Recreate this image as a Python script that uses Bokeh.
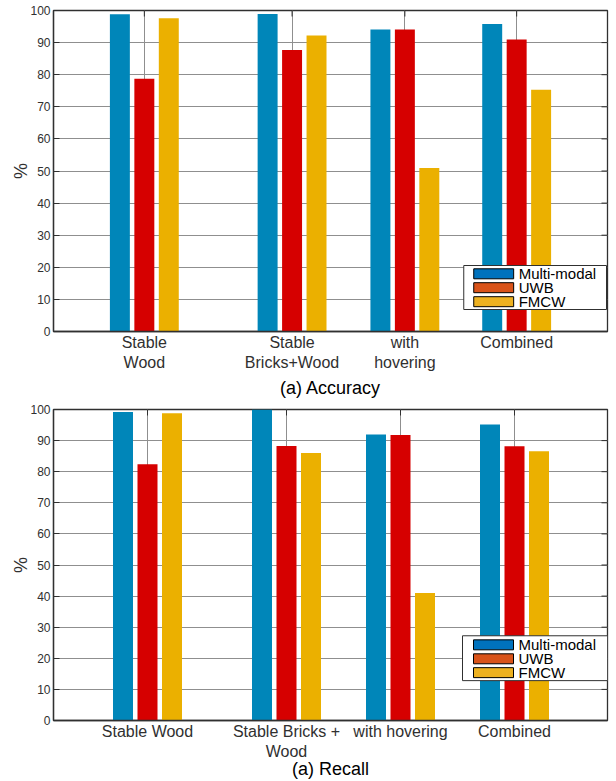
from bokeh.plotting import figure
from bokeh.models import ColumnDataSource, FixedTicker, Range1d
from bokeh.layouts import column
from bokeh.transform import dodge
from bokeh.core.properties import value
from bokeh.embed import file_html
from bokeh.resources import INLINE

# ---------------- data ----------------
series = ["Multi-modal", "UWB", "FMCW"]

acc_labels = ["Stable\nWood", "Stable\nBricks+Wood", "with\nhovering", "Combined"]
acc_multi = [98.8, 98.9, 94.1, 95.8]
acc_uwb = [78.7, 87.7, 94.1, 91.0]
acc_fmcw = [97.6, 92.2, 50.9, 75.3]

rec_labels = ["Stable Wood", "Stable Bricks +\nWood", "with hovering", "Combined"]
rec_multi = [99.2, 100.0, 92.0, 95.2]
rec_uwb = [82.4, 88.3, 91.8, 88.2]
rec_fmcw = [98.8, 86.0, 41.0, 86.6]

y_ticks = list(range(0, 101, 10))

# ---------------- style / layout ----------------
FONT = "Liberation Sans"
BAR_COLORS = ["#0086B9", "#D60000", "#EBB000"]
LEG_COLORS = ["#0072BD", "#D95319", "#EDB120"]
DARK = "#303030"
GRID = "#8f8f8f"

# category positions (in frame-pixel-like units)
acc_xpos = [91, 239, 352, 464]
acc_xrange = (0, 555)
rec_xpos = [94, 233, 347, 461]
rec_xrange = (0, 554)

# legend placement (frame pixels from bottom-left): box l, r, b, t ; row centres
acc_leg = dict(box=(411, 554, 22, 66), rows=[57.7, 43.8, 29.8], patch=(421, 461), text_x=466)
rec_leg = dict(box=(409, 554, 40, 85), rows=[75.9, 61.9, 48.0], patch=(420, 460), text_x=465)


def make_chart(labels, xpos, xrange, vals, axis_title, height, borders,
               frame_h, leg, label_standoff):
    bl, br, bt, bb = borders
    p = figure(width=616, height=height, x_range=Range1d(*xrange),
               y_range=Range1d(0, 100), output_backend="svg",
               toolbar_location=None, min_border_left=bl,
               min_border_right=br, min_border_top=bt, min_border_bottom=bb)
    p.background_fill_color = "white"
    p.border_fill_color = "white"
    p.outline_line_color = DARK
    p.outline_line_width = 1.3

    def ys(px):
        return px * 100.0 / frame_h

    src = ColumnDataSource(dict(x=xpos, m=vals[0], u=vals[1], f=vals[2]))
    offsets = [-24.5, 0.0, 24.5]
    for key, off, col in zip(["m", "u", "f"], offsets, BAR_COLORS):
        p.vbar(x=dodge("x", off, range=p.x_range), top=key, width=20,
               source=src, fill_color=col, line_color=None)

    # inner tick marks on the right and top borders (box style)
    p.segment(x0=[xrange[1] - 6] * len(y_ticks), x1=[xrange[1]] * len(y_ticks),
              y0=y_ticks, y1=y_ticks, line_color=DARK, line_width=1)
    p.segment(x0=xpos, x1=xpos, y0=[100] * len(xpos),
              y1=[100 - ys(6)] * len(xpos), line_color=DARK, line_width=1)

    # legend box (drawn manually to match the compact MATLAB legend)
    l, r, b, t = leg["box"]
    p.quad(left=[l], right=[r], bottom=[ys(b)], top=[ys(t)],
           fill_color="white", line_color=DARK, line_width=1)
    px0, px1 = leg["patch"]
    rows = leg["rows"]
    p.quad(left=[px0] * 3, right=[px1] * 3,
           bottom=[ys(rc - 5) for rc in rows], top=[ys(rc + 5) for rc in rows],
           fill_color=LEG_COLORS, line_color="black", line_width=1)
    p.text(x=[leg["text_x"]] * 3, y=[ys(rc) for rc in rows], text=series,
           text_font=value(FONT), text_font_size="15px",
           text_baseline="middle", text_align="left", text_color="black")

    # x axis (below)
    xa = p.xaxis[0]
    xa.ticker = FixedTicker(ticks=xpos)
    xa.major_label_overrides = {x: lab for x, lab in zip(xpos, labels)}
    xa.major_label_text_font = FONT
    xa.major_label_text_font_size = "16px"
    xa.major_label_text_color = DARK
    xa.major_label_standoff = 2
    xa.major_tick_in = 0
    xa.major_tick_out = 0
    xa.minor_tick_line_color = None
    xa.axis_line_color = DARK
    xa.axis_line_width = 1.3
    xa.axis_label = axis_title
    xa.axis_label_text_font = FONT
    xa.axis_label_text_font_size = "18px"
    xa.axis_label_text_font_style = "normal"
    xa.axis_label_text_color = "black"
    xa.axis_label_standoff = label_standoff

    # y axis (left)
    ya = p.yaxis[0]
    ya.ticker = FixedTicker(ticks=y_ticks)
    ya.major_label_text_font = FONT
    ya.major_label_text_font_size = "12px"
    ya.major_label_text_color = DARK
    ya.major_label_standoff = 3
    ya.major_tick_in = 6
    ya.major_tick_out = 0
    ya.major_tick_line_color = DARK
    ya.minor_tick_line_color = None
    ya.axis_line_color = DARK
    ya.axis_line_width = 1.3
    ya.axis_label = "%"
    ya.axis_label_text_font = FONT
    ya.axis_label_text_font_size = "18px"
    ya.axis_label_text_font_style = "normal"
    ya.axis_label_text_color = DARK
    ya.axis_label_standoff = -4

    # grids
    p.xgrid.ticker = FixedTicker(ticks=xpos)
    p.xgrid.grid_line_color = GRID
    p.xgrid.grid_line_width = 1
    p.ygrid.ticker = FixedTicker(ticks=y_ticks)
    p.ygrid.grid_line_color = GRID
    p.ygrid.grid_line_width = 1
    return p


p1 = make_chart(acc_labels, acc_xpos, acc_xrange, [acc_multi, acc_uwb, acc_fmcw],
                "(a) Accuracy", 400, (52, 9, 10, 69), 321, acc_leg, 4)
p2 = make_chart(rec_labels, rec_xpos, rec_xrange, [rec_multi, rec_uwb, rec_fmcw],
                "(a) Recall", 381, (53, 9, 9, 60), 312, rec_leg, -4)

layout = column(p1, p2, spacing=0)
open("out.html", "w").write(file_html(layout, INLINE))
